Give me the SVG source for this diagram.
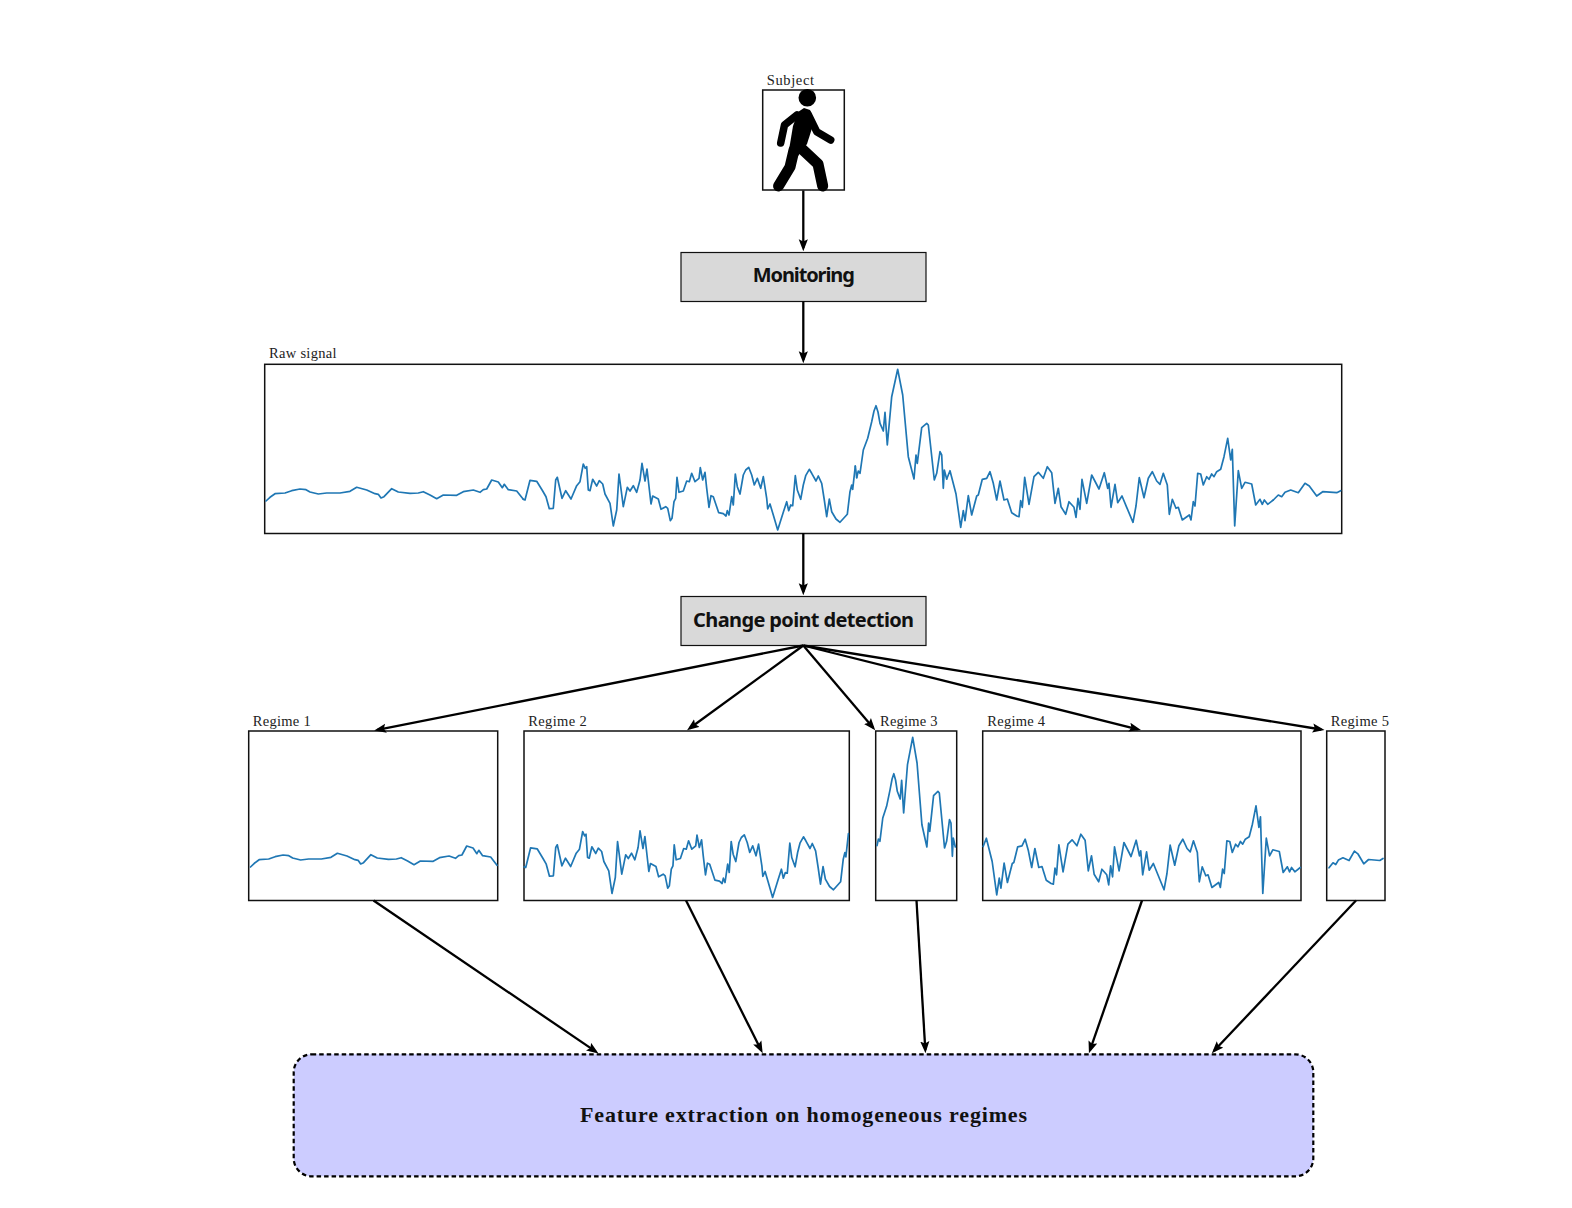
<svg xmlns="http://www.w3.org/2000/svg" xmlns:xlink="http://www.w3.org/1999/xlink" width="1572" height="1208" viewBox="0 0 1572 1208">
<style>
.box{fill:#fff;stroke:#111;stroke-width:1.5}
.proc{fill:#d9d9d9;stroke:#111;stroke-width:1.2}
.sig{fill:none;stroke:#1f77b4;stroke-width:1.7;stroke-linejoin:round;stroke-linecap:round;vector-effect:non-scaling-stroke}
.lab{font-family:"Liberation Serif",serif;font-size:14.5px;fill:#222}
.title{font-family:"Noto Sans",sans-serif;font-weight:700;font-size:20px;fill:#111;text-anchor:middle}
.arrow{fill:none;stroke:#000;stroke-width:2.3;marker-end:url(#head)}
.limb{fill:none;stroke:#000;stroke-linecap:round;stroke-linejoin:round}
</style>
<defs>
<marker id="head" markerUnits="userSpaceOnUse" markerWidth="12" markerHeight="10" viewBox="0 0 11 9" refX="8" refY="4.5" orient="auto"><path d="M11,4.5 L0,0.3 L2,4.5 L0,8.7 Z" fill="#000"/></marker>
<polyline id="s1" class="sig" points="266,501 270,497.3 275,493.7 285,493 291.7,490.7 300,489 306,489.7 310,492 318.3,494 326.7,493 335,493 340,493 350,491.3 356.7,487.3 366.7,490 375,493.7 378.3,494.3 381,498 384,496.7 391.7,488.7 398.3,492 410,493.3 418.3,493 423.3,491.7 430,495 436.7,498.7 443.3,495 456.7,495.3 463.3,491.7 473.3,490 480,492.3 483.3,489.7 486.7,489 491.7,480 498.3,482 502.3,487.7 504.3,484.3 508.3,489.7 516.7,491 523.3,499.3"/>
<polyline id="s2" class="sig" points="523.3,499.3 525,500 530,480.3 536.7,481.3 542.7,491 546,496.7 549.3,508.7 553.3,508.3 555.7,480 557.3,477.3 562,498.3 565.7,490.7 571,499 576.7,485.7 580,481.7 583.3,464 585.3,468.3 586.7,466.7 588.3,490 590,490.7 592.7,479.3 596.7,486 599.3,480.7 602.7,484 605,494 610,503.3 613.3,526 616.7,510 619,474 620.7,486.7 623.3,506.7 627.3,487.3 630,491 633.3,485.7 636.7,492.3 640,480 642,463.3 645,481 647,469 651,504 652.7,496 658.3,499 661,509.3 665.7,506.7 667.7,508.3 670.3,520.7 672,518.3 674,501.7 675.7,498.3 677,477.3 679,492.3 683.3,491 686.7,481 689.3,481.7 691.7,473.3 695,481.7 699,478.3 700.3,467.7 702.7,480 705,472.3 706.7,488.3 709,507.3 711,495.7 713.3,496.7 718.7,512.7 723.3,513.7 726,516 727.3,510.7 729,515 731.7,496.7 733.3,505 735.3,474 737.3,486.7 740,494 743.3,475 745.7,470 748.7,467.3 751.7,475 754.3,485 757.3,478.3 760.7,488.3 763.3,476.7 766.7,498.3 767.7,509 770,504 773.3,515 777.7,530 783.3,512.3 786.7,501.7 788.7,510.7 790.7,505 792.7,505.7 795.3,475.7 797.3,490 800.7,499.3 803.3,485 805.7,475.7 809.3,469.3 811.7,473.3 816,481 818.3,476 821.7,483.3 824.3,500 826.7,516.7 829.3,499 831.7,511.7 836,519 840,522.3 847.3,514.3 850,491.7 851.7,485 852.7,489.3 855.3,466"/>
<polyline id="s3" class="sig" points="856.7,477.7 858.3,471 860,473.3 863.3,450 867.7,438.3 871.7,421.7 874,411 876,405.7 878,412 880,423.3 883.3,431 885,412.3 887.3,445 891.7,396.7 897.7,369.3 902.7,395 908.3,456.7 914,479 916,455 917.3,463.3 921.7,427.7 926.7,423.3 928.3,425 934.3,480 936.7,473.3 940,451.7 941.7,455 943.3,488.3 944.3,470 946.7,479"/>
<polyline id="s4" class="sig" points="946.7,479 950,470.7 956,494 960.7,527.3 963.3,510.7 965,520.7 968.3,495.7 971.7,515 976.7,496 978.3,495 982.3,479.3 986.7,478.3 990,471.7 993.3,483.3 996.7,500 1000,481 1004,500 1007.3,499 1011.7,512.7 1016.7,516 1019,516.7 1020.7,500.7 1022.3,507.3 1024.7,477.3 1029,504.3 1034,476.7 1038.3,472.3 1043.3,478.3 1047.3,466.7 1051.7,472.7 1055,503.3 1058.3,488.3 1061,506.7 1065.7,514.3 1069,501.7 1074,507.3 1076,517.3 1078,498.3 1080,509.3 1082,479.3 1086.7,503.3 1091.7,475 1099,489 1104.3,472.7 1107.7,488.3 1109,483.3 1111,507.3 1115,484.3 1117.7,502.7 1122,496 1126.7,507.3 1133,522.3 1136,506 1139.3,477.7 1144,497.7 1148.3,478.3 1152.3,471.7 1156.7,481 1160,484.3 1163.3,473.3 1167.3,485 1169.3,514.3 1172.3,499.3 1176,508.3 1178.3,507.3 1182.3,520 1189.3,515 1191,520 1193.3,501.7 1195,506 1197.7,473.3 1200.7,474 1203.3,485 1206.7,476.7 1209,479.3 1211.7,474 1214,476.7 1216.7,471.7 1220.7,469.3 1224,456.7 1227.7,438.3 1230.7,460 1232.3,449.3 1234.7,526 1238.3,470.7 1241.7,488.3 1245,482.3 1251.7,484 1255.7,505 1260,499.3 1262.3,504.3 1264.3,500 1267.7,504.3 1273.3,500"/>
<polyline id="s5" class="sig" points="1273.3,500 1278.3,495 1281.7,496.7 1285,492.3 1290.7,490 1298.3,492.7 1305,483.3 1309.3,486 1316.7,496 1322.7,491.7 1336.7,492.7 1340.7,490.7"/>
</defs>

<g id="subject">
<rect class="box" x="762.7" y="90" width="81.6" height="100"/>
<text class="lab" x="766.7" y="84.5" textLength="47.3">Subject</text>
<circle cx="807.3" cy="97.7" r="8.8" fill="#000"/>
<polyline class="limb" stroke-width="7.5" points="797,115 784.5,125 780.7,143"/>
<polyline class="limb" stroke-width="7.5" points="808,114 816.7,131.7 830.7,140"/>
<polygon fill="#000" points="798,112 804,108 810,110 814,122 807,144 795,160 788,156 793,126"/>
<polyline class="limb" stroke-width="11" points="802,149 818,164 822.7,186"/>
<polyline class="limb" stroke-width="11" points="794,150 790,167 778.5,186"/>
</g>

<g id="monitoring">
<rect class="proc" x="681" y="252.5" width="245" height="49"/>
<text class="title" x="803.8" y="282" textLength="102">Monitoring</text>
</g>

<g id="raw-signal">
<rect class="box" x="264.7" y="364.3" width="1077" height="169.2"/>
<text class="lab" x="269" y="358" textLength="67.5">Raw signal</text>
<use xlink:href="#s1" href="#s1"/>
<use xlink:href="#s2" href="#s2"/>
<polyline class="sig" points="855.3,466 856.7,477.7"/>
<use xlink:href="#s3" href="#s3"/>
<use xlink:href="#s4" href="#s4"/>
<use xlink:href="#s5" href="#s5"/>
</g>

<g id="change-point-detection">
<rect class="proc" x="681" y="596.5" width="245" height="49"/>
<text class="title" x="803.6" y="626.5" textLength="221">Change point detection</text>
</g>

<g id="regime-1">
<rect class="box" x="248.7" y="731" width="249" height="169.5"/>
<text class="lab" x="252.7" y="725.5" textLength="58">Regime 1</text>
<use xlink:href="#s1" href="#s1" transform="matrix(.958 0 0 1 -4.33 366)"/>
</g>
<g id="regime-2">
<rect class="box" x="524" y="731" width="325.3" height="169.5"/>
<text class="lab" x="528.3" y="725.5" textLength="58.4">Regime 2</text>
<use xlink:href="#s2" href="#s2" transform="matrix(.977 0 0 1 12.8 367.5)"/>
</g>
<g id="regime-3">
<rect class="box" x="875.7" y="731" width="81" height="169.5"/>
<text class="lab" x="880" y="725.5" textLength="57.5">Regime 3</text>
<use xlink:href="#s3" href="#s3" transform="matrix(.87 0 0 1 131.7 368)"/>
</g>
<g id="regime-4">
<rect class="box" x="982.7" y="731" width="318.3" height="169.5"/>
<text class="lab" x="987.3" y="725.5" textLength="57.7">Regime 4</text>
<use xlink:href="#s4" href="#s4" transform="matrix(.971 0 0 1 63.9 367.5)"/>
</g>
<g id="regime-5">
<rect class="box" x="1326.7" y="731" width="58.3" height="169.5"/>
<text class="lab" x="1330.7" y="725.5" textLength="58.3">Regime 5</text>
<use xlink:href="#s5" href="#s5" transform="matrix(.801 0 0 1 309.1 367.8)"/>
</g>

<g id="feature-extraction">
<rect x="293.7" y="1054.3" width="1019.6" height="122" rx="18" ry="18" fill="#ccccff" stroke="#000" stroke-width="2.2" stroke-dasharray="4.5 3"/>
<text x="803.5" y="1121.5" font-family="Liberation Serif, serif" font-weight="700" font-size="22" fill="#111" text-anchor="middle" textLength="447">Feature extraction on homogeneous regimes</text>
</g>

<g id="connectors">
<line class="arrow" x1="803.3" y1="190.5" x2="803.3" y2="248"/>
<line class="arrow" x1="803.3" y1="301.5" x2="803.3" y2="360"/>
<line class="arrow" x1="803.3" y1="533" x2="803.3" y2="592"/>
<line class="arrow" x1="803.3" y1="645.5" x2="377.4" y2="729.9"/>
<line class="arrow" x1="803.3" y1="645.5" x2="689.7" y2="728.2"/>
<line class="arrow" x1="803.3" y1="645.5" x2="873.1" y2="727.7"/>
<line class="arrow" x1="803.3" y1="645.5" x2="1137.8" y2="729.3"/>
<line class="arrow" x1="803.3" y1="645.5" x2="1321.3" y2="729.5"/>
<line class="arrow" x1="373.5" y1="900.5" x2="595.8" y2="1051.6"/>
<line class="arrow" x1="686" y1="900.5" x2="761.2" y2="1050.3"/>
<line class="arrow" x1="916.5" y1="900.5" x2="925.3" y2="1050"/>
<line class="arrow" x1="1142" y1="900.5" x2="1090" y2="1050.2"/>
<line class="arrow" x1="1356" y1="900.5" x2="1214.1" y2="1050.8"/>
</g>
</svg>
